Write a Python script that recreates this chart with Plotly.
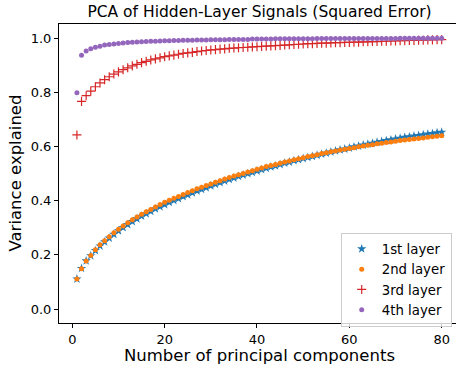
import plotly.graph_objects as go

components = list(range(1, 81))

layer1 = [0.111, 0.150, 0.178, 0.197, 0.216, 0.233, 0.248, 0.262, 0.276, 0.289,
          0.301, 0.312, 0.323, 0.333, 0.343, 0.352, 0.361, 0.370, 0.378, 0.386,
          0.394, 0.401, 0.408, 0.415, 0.422, 0.429, 0.436, 0.442, 0.448, 0.455,
          0.461, 0.467, 0.473, 0.479, 0.484, 0.490, 0.495, 0.500, 0.505, 0.510,
          0.515, 0.520, 0.525, 0.529, 0.534, 0.539, 0.543, 0.548, 0.552, 0.556,
          0.560, 0.564, 0.568, 0.572, 0.576, 0.580, 0.584, 0.588, 0.591, 0.595,
          0.599, 0.602, 0.606, 0.609, 0.612, 0.616, 0.619, 0.622, 0.625, 0.628,
          0.631, 0.634, 0.636, 0.639, 0.641, 0.644, 0.646, 0.648, 0.651, 0.653]

layer2 = [0.111, 0.149, 0.177, 0.198, 0.219, 0.237, 0.252, 0.267, 0.282, 0.295,
          0.307, 0.319, 0.330, 0.340, 0.350, 0.359, 0.368, 0.377, 0.386, 0.394,
          0.402, 0.409, 0.416, 0.423, 0.430, 0.437, 0.444, 0.450, 0.456, 0.462,
          0.468, 0.474, 0.480, 0.486, 0.491, 0.496, 0.501, 0.506, 0.511, 0.516,
          0.521, 0.526, 0.530, 0.534, 0.538, 0.543, 0.547, 0.551, 0.555, 0.559,
          0.563, 0.566, 0.570, 0.574, 0.577, 0.581, 0.584, 0.587, 0.590, 0.593,
          0.596, 0.599, 0.602, 0.605, 0.607, 0.610, 0.612, 0.615, 0.617, 0.620,
          0.622, 0.624, 0.626, 0.628, 0.630, 0.632, 0.634, 0.636, 0.638, 0.640]

layer3 = [0.643, 0.767, 0.788, 0.805, 0.821, 0.835, 0.847, 0.858, 0.868, 0.876,
          0.884, 0.891, 0.898, 0.904, 0.910, 0.915, 0.920, 0.924, 0.928, 0.932,
          0.935, 0.938, 0.941, 0.944, 0.946, 0.948, 0.951, 0.953, 0.955, 0.957,
          0.958, 0.960, 0.961, 0.963, 0.964, 0.965, 0.966, 0.967, 0.968, 0.969,
          0.970, 0.971, 0.972, 0.973, 0.974, 0.975, 0.976, 0.977, 0.978, 0.979,
          0.980, 0.980, 0.981, 0.982, 0.982, 0.983, 0.984, 0.984, 0.985, 0.985,
          0.986, 0.986, 0.987, 0.987, 0.988, 0.988, 0.989, 0.989, 0.990, 0.990,
          0.991, 0.991, 0.992, 0.992, 0.993, 0.993, 0.994, 0.994, 0.995, 0.995]

layer4 = [0.799, 0.937, 0.953, 0.961, 0.967, 0.971, 0.975, 0.977, 0.979, 0.981,
          0.983, 0.984, 0.985, 0.986, 0.987, 0.988, 0.989, 0.989, 0.990, 0.991,
          0.991, 0.992, 0.992, 0.993, 0.993, 0.993, 0.994, 0.994, 0.994, 0.995,
          0.995, 0.995, 0.995, 0.996, 0.996, 0.996, 0.996, 0.996, 0.997, 0.997,
          0.997, 0.997, 0.997, 0.998, 0.998, 0.998, 0.998, 0.998, 0.998, 0.998,
          0.998, 0.998, 0.999, 0.999, 0.999, 0.999, 0.999, 0.999, 0.999, 0.999,
          0.999, 0.999, 0.999, 0.999, 0.999, 0.999, 0.999, 0.999, 0.999, 0.999,
          1.000, 1.000, 1.000, 1.000, 1.000, 1.000, 1.000, 1.000, 1.000, 1.000]

series_names = ["1st layer", "2nd layer", "3rd layer", "4th layer"]
x_ticks = [0, 20, 40, 60, 80]
y_ticks = [0.0, 0.2, 0.4, 0.6, 0.8, 1.0]

FONT = "DejaVu Sans"

fig = go.Figure()
fig.add_trace(go.Scatter(x=components, y=layer1, mode="markers", name=series_names[0],
                         marker=dict(symbol="star", size=7, color="#1f77b4", line=dict(width=0))))
fig.add_trace(go.Scatter(x=components, y=layer2, mode="markers", name=series_names[1],
                         marker=dict(symbol="circle", size=5, color="#ff7f0e", line=dict(width=0))))
fig.add_trace(go.Scatter(x=components, y=layer3, mode="markers", name=series_names[2],
                         marker=dict(symbol="cross-thin", size=6.5, color="#d62728",
                                     line=dict(width=1.2, color="#d62728"))))
fig.add_trace(go.Scatter(x=components, y=layer4, mode="markers", name=series_names[3],
                         marker=dict(symbol="circle", size=5, color="#9467bd", line=dict(width=0))))

axis_common = dict(showgrid=False, zeroline=False, showline=True, linecolor="black",
                   linewidth=1, ticks="outside", ticklen=4, tickwidth=1, tickcolor="black",
                   tickfont=dict(family=FONT, size=13, color="black"), automargin=False)

fig.update_layout(
    width=456, height=370,
    margin=dict(l=59, r=0, t=24, b=47),
    paper_bgcolor="white", plot_bgcolor="white",
    font=dict(family=FONT, color="black"),
    showlegend=True,
    title=dict(text="PCA of Hidden-Layer Signals (Squared Error)",
               font=dict(family=FONT, size=15.5, color="black"),
               xref="container", x=259.5 / 456, xanchor="center",
               yref="container", y=1 - 12 / 370, yanchor="middle"),
    xaxis=dict(range=[-2.88, 83.1], tickvals=x_ticks, ticktext=[str(v) for v in x_ticks],
               mirror=True, **axis_common),
    yaxis=dict(range=[-0.0517, 1.0528], tickvals=y_ticks,
               ticktext=[f"{v:.1f}" for v in y_ticks], **axis_common),
    legend=dict(x=0.7096, y=0.302, xanchor="left", yanchor="top",
                bgcolor="rgba(255,255,255,0.8)", bordercolor="#cccccc", borderwidth=1,
                font=dict(family=FONT, size=13.3, color="black"), tracegroupgap=0),
    annotations=[
        dict(text="Number of principal components", xref="paper", yref="paper",
             x=(259 - 59) / 397, y=-(355 - 323) / 299, xanchor="center", yanchor="middle",
             showarrow=False, font=dict(family=FONT, size=16.5, color="black")),
        dict(text="Variance explained", xref="paper", yref="paper",
             x=-(59 - 15) / 397, y=0.5, xanchor="center", yanchor="middle", textangle=-90,
             showarrow=False, font=dict(family=FONT, size=16.5, color="black")),
    ],
)

fig.write_html(
    "out.html",
    config={"displayModeBar": False},
    post_script="document.body.style.margin='0';document.body.style.overflow='hidden';",
)
